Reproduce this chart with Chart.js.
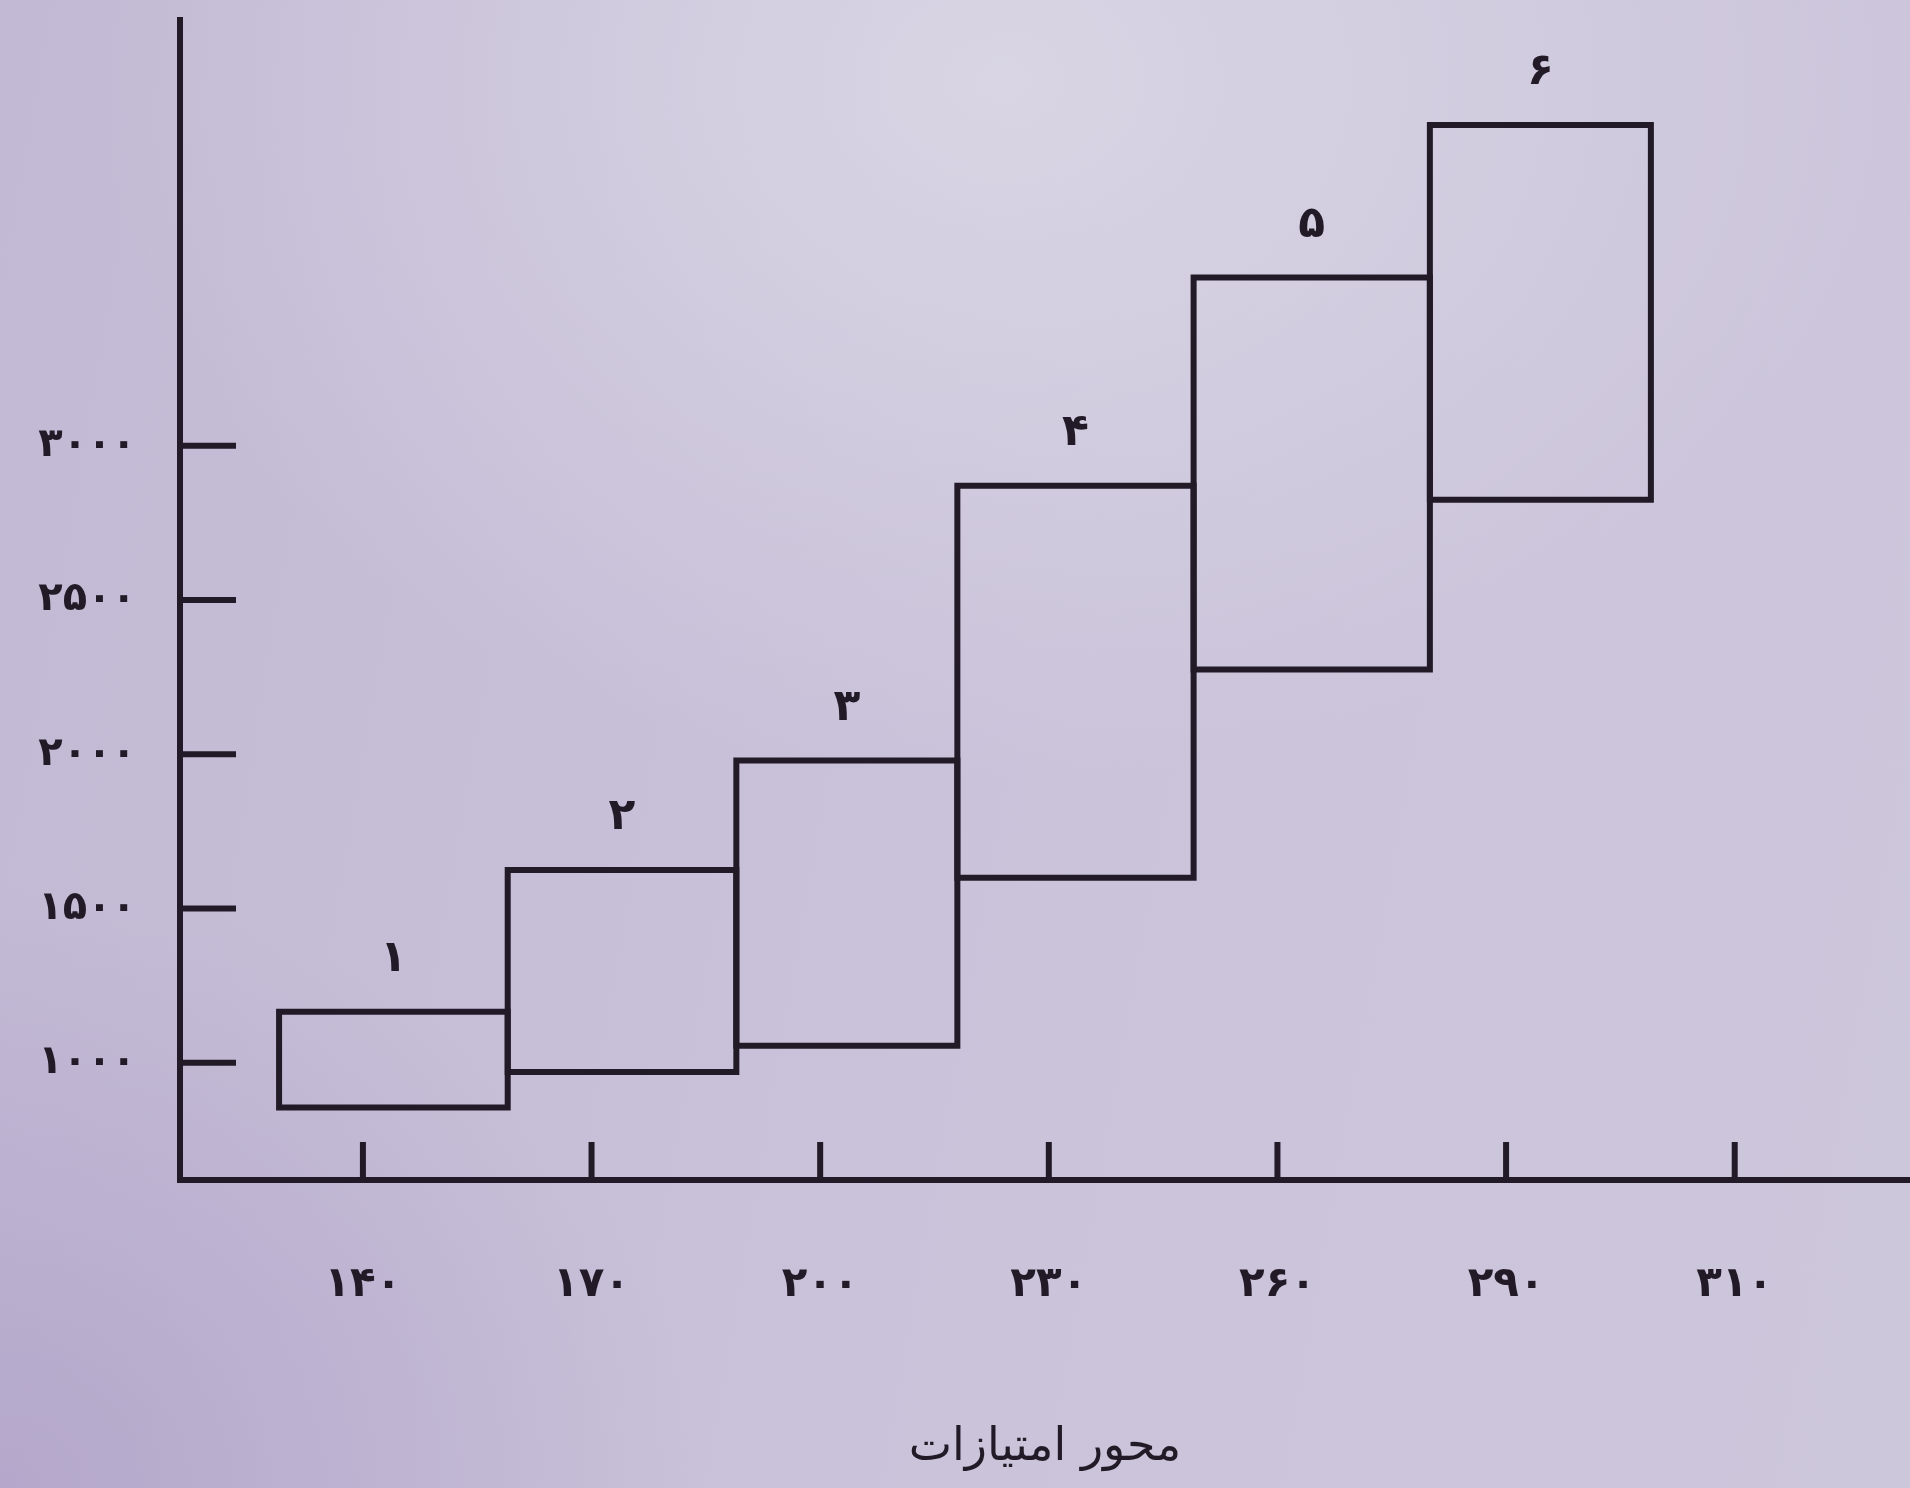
<!DOCTYPE html>
<html lang="fa">
<head>
<meta charset="utf-8">
<title>محور امتیازات</title>
<script src="https://cdn.jsdelivr.net/npm/chart.js@4.4.1/dist/chart.umd.min.js"></script>
<style>
  html, body {
    margin: 0;
    padding: 0;
    width: 1910px;
    height: 1488px;
    overflow: hidden;
    background:
      radial-gradient(ellipse 900px 700px at 1000px 80px, rgba(218, 215, 229, 0.9), rgba(218, 215, 229, 0) 100%),
      radial-gradient(ellipse 700px 600px at 0px 1488px, rgba(176, 162, 200, 0.8), rgba(176, 162, 200, 0) 100%),
      linear-gradient(100deg, #c2b9d4 0%, #cac3da 55%, #cdc7dc 100%);
  }
  #wrap {
    position: relative;
    width: 1910px;
    height: 1488px;
  }
</style>
</head>
<body>
<div id="wrap"><canvas id="canvas"></canvas></div>
<script>
// داده‌های نمودار (خوانده شده از تصویر)
const gradeLabels = ["۱", "۲", "۳", "۴", "۵", "۶"];
const pointStart = [129, 159, 189, 218, 249, 280];
const pointEnd = [159, 189, 218, 249, 280, 309];
const payLow = [855, 970, 1055, 1600, 2275, 2825];
const payHigh = [1165, 1625, 1980, 2870, 3545, 4040];

const xTickValues = [140, 170, 200, 230, 260, 290, 320];
const xTickLabels = ["۱۴۰", "۱۷۰", "۲۰۰", "۲۳۰", "۲۶۰", "۲۹۰", "۳۱۰"]; // آخرین برچسب در کتاب «۳۱۰» چاپ شده
const yTickValues = [1000, 1500, 2000, 2500, 3000];
const yTickLabels = ["۱۰۰۰", "۱۵۰۰", "۲۰۰۰", "۲۵۰۰", "۳۰۰۰"];

const axisTitle = "محور امتیازات";

const ink = "#231a27";
const fontFamily = "'DejaVu Sans', sans-serif";

// هر طبقه یک مستطیل بسته
const datasets = gradeLabels.map((g, i) => ({
  label: g,
  data: [
    { x: pointStart[i], y: payLow[i] },
    { x: pointStart[i], y: payHigh[i] },
    { x: pointEnd[i], y: payHigh[i] },
    { x: pointEnd[i], y: payLow[i] },
    { x: pointStart[i], y: payLow[i] },
  ],
  showLine: true,
  fill: false,
  borderColor: ink,
  borderWidth: 6,
  borderJoinStyle: "miter",
  borderCapStyle: "square",
  pointRadius: 0,
  tension: 0,
}));

// تیک‌ها رو به داخل + شماره طبقه بالای هر مستطیل
const insideTicks = {
  id: "insideTicks",
  afterDatasetsDraw(chart) {
    const { ctx, chartArea, scales } = chart;
    ctx.save();
    ctx.strokeStyle = ink;
    ctx.lineWidth = 6;
    ctx.lineCap = "butt";

    yTickValues.forEach((v) => {
      const y = scales.y.getPixelForValue(v);
      ctx.beginPath();
      ctx.moveTo(chartArea.left, y);
      ctx.lineTo(chartArea.left + 56, y);
      ctx.stroke();
    });

    xTickValues.forEach((v) => {
      const x = scales.x.getPixelForValue(v);
      ctx.beginPath();
      ctx.moveTo(x, chartArea.bottom);
      ctx.lineTo(x, chartArea.bottom - 38);
      ctx.stroke();
    });

    ctx.fillStyle = ink;
    ctx.font = "bold 44px " + fontFamily;
    ctx.textAlign = "center";
    ctx.textBaseline = "bottom";
    gradeLabels.forEach((g, i) => {
      const x = scales.x.getPixelForValue((pointStart[i] + pointEnd[i]) / 2);
      const y = scales.y.getPixelForValue(payHigh[i]);
      ctx.fillText(g, x, y - 30);
    });
    ctx.restore();
  },
};

const canvas = document.getElementById("canvas");
canvas.width = 1910;
canvas.height = 1488;

const myChart = new Chart(canvas.getContext("2d"), {
  type: "scatter",
  data: { datasets: datasets },
  options: {
    responsive: false,
    animation: false,
    layout: { padding: { top: 20, right: 0, bottom: 0, left: 0 } },
    plugins: {
      legend: { display: false },
      tooltip: { enabled: false },
    },
    scales: {
      x: {
        type: "linear",
        min: 116,
        max: 343,
        afterBuildTicks: (scale) => {
          scale.ticks = xTickValues.map((v) => ({ value: v }));
        },
        afterFit: (scale) => {
          scale.height = 308;
          scale.paddingLeft = 0;
          scale.paddingRight = 0;
        },
        ticks: {
          color: ink,
          padding: 80,
          maxRotation: 0,
          autoSkip: false,
          font: { size: 42, weight: "bold", family: fontFamily },
          callback: (v) => xTickLabels[xTickValues.indexOf(v)],
        },
        grid: { display: false, drawTicks: false },
        border: { display: true, color: ink, width: 6 },
        title: {
          display: true,
          text: axisTitle,
          color: ink,
          padding: { top: 0, bottom: 12 },
          font: { size: 46, family: fontFamily },
        },
      },
      y: {
        type: "linear",
        min: 620,
        max: 4380,
        afterBuildTicks: (scale) => {
          scale.ticks = yTickValues.map((v) => ({ value: v }));
        },
        afterFit: (scale) => {
          scale.width = 180;
          scale.paddingTop = 0;
          scale.paddingBottom = 0;
        },
        ticks: {
          color: ink,
          padding: 44,
          autoSkip: false,
          font: { size: 40, weight: "bold", family: fontFamily },
          callback: (v) => yTickLabels[yTickValues.indexOf(v)],
        },
        grid: { display: false, drawTicks: false },
        border: { display: true, color: ink, width: 6 },
      },
    },
  },
  plugins: [insideTicks],
});
</script>
</body>
</html>
